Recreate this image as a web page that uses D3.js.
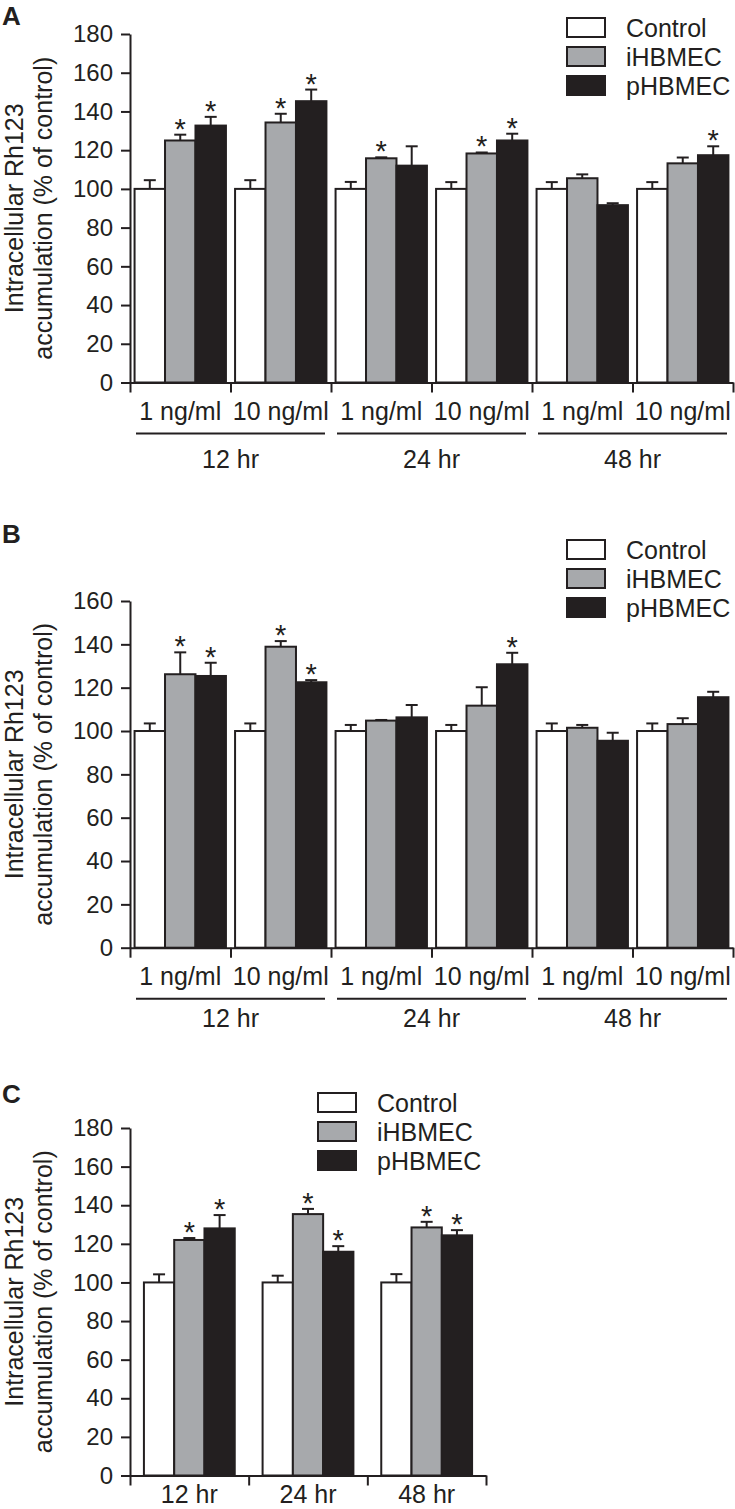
<!DOCTYPE html>
<meta charset="utf-8">
<html>
<script src="https://d3js.org/d3.v7.min.js"></script>
<style>
  body { margin: 0; background: #fff; }
  text { font-family: "Liberation Sans", Arial, sans-serif; fill: #231f20; }
</style>
<body>
<div id="chart"></div>
<script>

// series and labels
const seriesNames = ["Control", "iHBMEC", "pHBMEC"];
const doseLabels = ["1 ng/ml", "10 ng/ml", "1 ng/ml", "10 ng/ml", "1 ng/ml", "10 ng/ml"];
const timeLabels = ["12 hr", "24 hr", "48 hr"];
const ticksA = [0, 20, 40, 60, 80, 100, 120, 140, 160, 180];
const ticksB = [0, 20, 40, 60, 80, 100, 120, 140, 160];
const ticksC = [0, 20, 40, 60, 80, 100, 120, 140, 160, 180];

// panel A
const aControl = [100, 100, 100, 100, 100, 100];
const aControlErr = [4.5, 4.5, 3.6, 3.5, 3.5, 3.5];
const aIhb = [125, 134.3, 115.8, 118.3, 105.5, 113.2];
const aIhbErr = [3, 4.5, 0.5, 0.5, 2, 3];
const aPhb = [132.7, 145.3, 112, 125, 91.6, 117.4];
const aPhbErr = [4.5, 6, 10, 3.5, 1, 4.6];
const aIhbSig = [1, 1, 1, 1, 0, 0];
const aPhbSig = [1, 1, 0, 1, 0, 1];

// panel B
const bControl = [100, 100, 100, 100, 100, 100];
const bControlErr = [3.5, 3.5, 2.8, 2.8, 3.5, 3.5];
const bIhb = [126.2, 138.9, 104.8, 111.7, 101.5, 103.2];
const bIhbErr = [10.1, 2.6, 0.3, 8.5, 1.3, 2.7];
const bPhb = [125.4, 122.5, 106.3, 130.8, 95.5, 115.6];
const bPhbErr = [6.1, 1, 5.7, 5.3, 3.7, 2.5];
const bIhbSig = [1, 1, 0, 0, 0, 0];
const bPhbSig = [1, 1, 0, 1, 0, 0];

// panel C
const cControl = [100, 100, 100];
const cControlErr = [4.2, 3.5, 4.3];
const cIhb = [122, 135.4, 128.5];
const cIhbErr = [1, 2.7, 2.9];
const cPhb = [128, 115.9, 124.4];
const cPhbErr = [6.9, 2.9, 2.7];
const cIhbSig = [1, 1, 1];
const cPhbSig = [1, 1, 1];

const ink = "#231f20";
const fills = ["#ffffff", "#a7a9ac", ink];

const svg = d3.select("#chart").append("svg")
  .attr("width", 735)
  .attr("height", 1509);

function drawPanel(p) {
  const g = svg.append("g");
  const nGroups = p.values[0].length;

  g.append("text")
    .attr("x", 2).attr("y", p.letterY)
    .style("font-size", "26px").style("font-weight", "bold")
    .text(p.letter);

  const y = d3.scaleLinear().domain([0, p.ymax]).range([p.y0, p.y1]);
  const xg = d3.scaleBand().domain(d3.range(nGroups)).range([130, p.xEnd]).padding(0);
  const xs = d3.scaleBand().domain(d3.range(3)).range([0, xg.bandwidth()])
    .paddingInner(0).paddingOuter(p.outer);

  // y axis
  const yAxis = g.append("g")
    .attr("transform", "translate(130,0)")
    .call(d3.axisLeft(y).tickValues(p.ticks).tickSize(9).tickSizeOuter(0).tickPadding(8));
  yAxis.selectAll("path, line").attr("stroke", ink).attr("stroke-width", 2);
  yAxis.selectAll("text").style("font-size", "24px").style("font-family", "Liberation Sans, Arial, sans-serif").attr("fill", ink);

  // y title, two lines
  const cy = (p.y0 + p.y1) / 2;
  g.append("text")
    .attr("transform", `translate(23,${cy}) rotate(-90)`)
    .attr("text-anchor", "middle")
    .style("font-size", "25px")
    .text("Intracellular Rh123");
  g.append("text")
    .attr("transform", `translate(52,${cy}) rotate(-90)`)
    .attr("text-anchor", "middle")
    .style("font-size", "25px")
    .text("accumulation (% of control)");

  // bars
  const rows = [];
  for (let i = 0; i < nGroups; i++) {
    for (let s = 0; s < 3; s++) {
      rows.push({ g: i, s: s, v: p.values[s][i], e: p.errs[s][i], sig: s > 0 ? p.sig[s - 1][i] : 0 });
    }
  }
  const cx = d => xg(d.g) + xs(d.s) + xs.bandwidth() / 2;
  const bar = g.append("g").selectAll("g").data(rows).join("g");
  bar.append("rect")
    .attr("x", d => xg(d.g) + xs(d.s))
    .attr("width", xs.bandwidth())
    .attr("y", d => y(d.v))
    .attr("height", d => y(0) - y(d.v))
    .attr("fill", d => fills[d.s])
    .attr("stroke", ink)
    .attr("stroke-width", 2);
  bar.append("line")
    .attr("x1", cx).attr("x2", cx)
    .attr("y1", d => y(d.v))
    .attr("y2", d => y(d.v + d.e))
    .attr("stroke", ink).attr("stroke-width", 2);
  bar.append("line")
    .attr("x1", d => cx(d) - 6)
    .attr("x2", d => cx(d) + 6)
    .attr("y1", d => y(d.v + d.e))
    .attr("y2", d => y(d.v + d.e))
    .attr("stroke", ink).attr("stroke-width", 2);
  bar.filter(d => d.sig)
    .append("text")
    .attr("x", cx)
    .attr("y", d => y(d.v + d.e) + 4)
    .attr("text-anchor", "middle")
    .style("font-size", "29px")
    .text("*");

  // x axis with group boundary ticks
  const xl = d3.scaleLinear().domain([0, nGroups]).range([130, p.xEnd]);
  const xAxis = g.append("g")
    .attr("transform", `translate(0,${p.y0})`)
    .call(d3.axisBottom(xl).tickValues(d3.range(nGroups + 1))
      .tickSize(10).tickSizeOuter(0).tickFormat(""));
  xAxis.selectAll("path, line").attr("stroke", ink).attr("stroke-width", 2);

  if (p.doses) {
    g.append("g").selectAll("text").data(p.doses).join("text")
      .attr("x", (d, i) => xg(i) + xg.bandwidth() / 2)
      .attr("y", p.y0 + 37)
      .attr("text-anchor", "middle")
      .style("font-size", "25px")
      .text(d => d);
    const pairW = xg.bandwidth() * 2;
    g.append("g").selectAll("line").data(timeLabels).join("line")
      .attr("x1", (d, i) => 130 + i * pairW + 6)
      .attr("x2", (d, i) => 130 + (i + 1) * pairW - 6)
      .attr("y1", p.y0 + 51).attr("y2", p.y0 + 51)
      .attr("stroke", ink).attr("stroke-width", 2);
    g.append("g").selectAll("text").data(timeLabels).join("text")
      .attr("x", (d, i) => 130 + (i + 0.5) * pairW)
      .attr("y", p.y0 + p.timeDy)
      .attr("text-anchor", "middle")
      .style("font-size", "25px")
      .text(d => d);
  } else {
    g.append("g").selectAll("text").data(timeLabels).join("text")
      .attr("x", (d, i) => xg(i) + xg.bandwidth() / 2)
      .attr("y", p.y0 + p.timeDy)
      .attr("text-anchor", "middle")
      .style("font-size", "25px")
      .text(d => d);
  }

  // legend
  const leg = g.append("g").selectAll("g").data(seriesNames).join("g")
    .attr("transform", (d, i) => `translate(${p.legX},${p.legY + i * 29})`);
  leg.append("rect")
    .attr("width", 38).attr("height", 19)
    .attr("fill", (d, i) => fills[i])
    .attr("stroke", ink).attr("stroke-width", 2);
  leg.append("text")
    .attr("x", 59).attr("y", 19)
    .style("font-size", "25px")
    .text(d => d);
}

drawPanel({
  letter: "A", letterY: 25, ymax: 180, y0: 382.5, y1: 34, ticks: ticksA, xEnd: 733, outer: 0.15,
  values: [aControl, aIhb, aPhb], errs: [aControlErr, aIhbErr, aPhbErr], sig: [aIhbSig, aPhbSig],
  doses: doseLabels, timeDy: 85, legX: 567, legY: 18
});
drawPanel({
  letter: "B", letterY: 543, ymax: 160, y0: 947.7, y1: 601, ticks: ticksB, xEnd: 733, outer: 0.15,
  values: [bControl, bIhb, bPhb], errs: [bControlErr, bIhbErr, bPhbErr], sig: [bIhbSig, bPhbSig],
  doses: doseLabels, timeDy: 79, legX: 567, legY: 540
});
drawPanel({
  letter: "C", letterY: 1103, ymax: 180, y0: 1475.5, y1: 1128, ticks: ticksC, xEnd: 486, outer: 0.46,
  values: [cControl, cIhb, cPhb], errs: [cControlErr, cIhbErr, cPhbErr], sig: [cIhbSig, cPhbSig],
  doses: null, timeDy: 27, legX: 318, legY: 1093
});

</script>
</body>
</html>
